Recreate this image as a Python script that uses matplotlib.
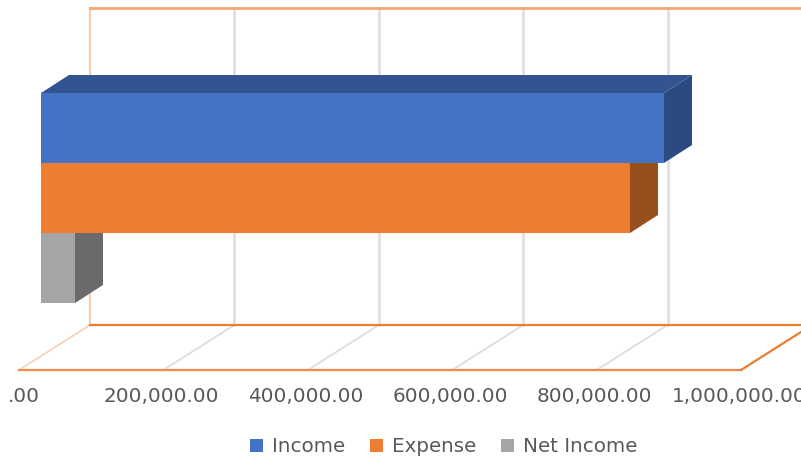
import matplotlib
matplotlib.use("Agg")
import matplotlib.pyplot as plt
from matplotlib.patches import Patch, Polygon

series = ["Income", "Expense", "Net Income"]
values = [862900, 815800, 47100]
ticks = [0, 200000, 400000, 600000, 800000, 1000000]
tick_labels = [".00", "200,000.00", "400,000.00", "600,000.00", "800,000.00", "1,000,000.00"]

front_colors = ["#4472C4", "#ED7D31", "#A5A5A5"]
side_colors = ["#2A4A80", "#97501C", "#6A6A6A"]
top_color = "#325592"

W, H = 801, 458
per_px = 1000000 / 722  # value units for one pixel

fig = plt.figure(figsize=(W / 100, H / 100), dpi=100)
ax = fig.add_axes([0, 0, 1, 1])
# x axis is in values, y axis is in pixels from the top
ax.set_xlim(-19 * per_px, (W - 19) * per_px)
ax.set_ylim(H, 0)
ax.axis("off")

# depth of the floor and of the bars
floor_dx = 71 * per_px
bar_dx = 28 * per_px
bar_dy = 18
bar_start = 22 * per_px
bar_h = 70
bar_top = 93

wall_top = 8
wall_bottom = 325
floor_front = 370

# gridlines on the wall and across the floor
for t in ticks[1:-1]:
    ax.plot([t + floor_dx, t + floor_dx], [wall_top, wall_bottom], color="#DDDDDD", lw=1.8, zorder=1)
    ax.plot([t, t + floor_dx], [floor_front, wall_bottom], color="#DDDDDD", lw=1.3, zorder=1)

# wall and floor outline
ax.plot([floor_dx, floor_dx], [wall_top, wall_bottom], color="#F4CDB0", lw=1.5, zorder=1)
ax.plot([0, floor_dx], [floor_front, wall_bottom], color="#F4D5BE", lw=1.3, zorder=1)
ax.plot([floor_dx, ticks[-1] + floor_dx], [wall_top, wall_top], color="#F4A673", lw=2, zorder=2)
ax.plot([floor_dx, ticks[-1] + floor_dx], [wall_bottom, wall_bottom], color="#ED7D31", lw=1.6, zorder=2)
ax.plot([0, ticks[-1]], [floor_front, floor_front], color="#F08C4A", lw=1.6, zorder=2)
ax.plot([ticks[-1], ticks[-1] + floor_dx], [floor_front, wall_bottom], color="#ED7D31", lw=1.6, zorder=2)

# bars, only the top one shows its lid
for i, name in enumerate(series):
    y0 = bar_top + i * bar_h
    y1 = y0 + bar_h
    end = bar_start + values[i]
    ax.barh(y0 + bar_h / 2, values[i], height=bar_h, left=bar_start, color=front_colors[i], zorder=5)
    ax.add_patch(Polygon([(end, y0), (end + bar_dx, y0 - bar_dy), (end + bar_dx, y1 - bar_dy), (end, y1)],
                         closed=True, facecolor=side_colors[i], edgecolor="none", zorder=4))
    if i == 0:
        ax.add_patch(Polygon([(bar_start, y0), (bar_start + bar_dx, y0 - bar_dy),
                              (end + bar_dx, y0 - bar_dy), (end, y0)],
                             closed=True, facecolor=top_color, edgecolor="none", zorder=4))

for t, lab in zip(ticks, tick_labels):
    shift = 5 * per_px if t == 0 else -2 * per_px
    ax.text(t + shift, 396, lab, ha="center", va="center", fontsize=14.4, color="#595959", clip_on=False)

handles = [Patch(facecolor=c, label=s) for c, s in zip(front_colors, series)]
ax.legend(handles=handles, ncol=3, loc="center", bbox_to_anchor=(443.5 / W, 1 - 447 / H), frameon=False,
          fontsize=14.3, labelcolor="#595959", handlelength=0.65, handleheight=0.65,
          handletextpad=0.45, columnspacing=1.25, borderpad=0)

fig.savefig("out.png", dpi=100)
